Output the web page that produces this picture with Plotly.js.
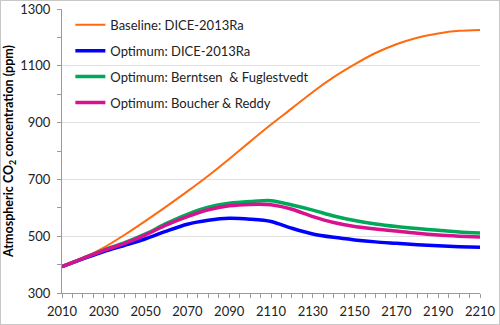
<!DOCTYPE html>
<html>
<head>
<meta charset="utf-8">
<script src="https://cdn.plot.ly/plotly-3.0.1.min.js"></script>
<style>
  html, body { margin: 0; padding: 0; background: #fff; }
  #wrap { position: relative; width: 500px; height: 325px; }
  #chart { width: 500px; height: 325px; }
  #frame { position: absolute; left: 0; top: 0; width: 500px; height: 325px; box-sizing: border-box; border: 1px solid #c8c8c8; pointer-events: none; }
</style>
</head>
<body>
<div id="wrap"><div id="chart"></div><div id="frame"></div></div>
<script>
const years = [2010, 2020, 2030, 2040, 2050, 2060, 2070, 2080, 2090, 2100, 2110, 2120, 2130, 2140, 2150, 2160, 2170, 2180, 2190, 2200, 2210];
const baselineDICE = [393, 423, 460, 505, 554, 605, 658, 713, 772, 833, 893, 950, 1008, 1060, 1105, 1145, 1176, 1199, 1214, 1223, 1226];
const optimumDICE  = [393, 420, 446, 468, 491, 518, 542, 556, 563, 560, 552, 528, 508, 496, 487, 480, 475, 470, 466, 463, 461];
const optimumBF    = [393, 422, 451, 477, 508, 545, 577, 602, 616, 622, 625, 610, 592, 571, 555, 543, 534, 527, 521, 515, 511];
const optimumBR    = [393, 422, 450, 475, 505, 540, 569, 593, 607, 612, 611, 595, 569, 548, 534, 525, 518, 510, 504, 500, 497];
const seriesNames = ["Baseline: DICE-2013Ra", "Optimum: DICE-2013Ra", "Optimum: Berntsen  & Fuglestvedt", "Optimum: Boucher & Reddy"];

const FONT = "Lato, 'Noto Sans', sans-serif";
const mk = (y, name, color, width, g) => ({
  x: years, y: y, name: name, type: "scatter", mode: "lines", legendgroup: g,
  line: { color: color, width: width, shape: "spline", smoothing: 0.8 }
});
const data = [
  mk(baselineDICE, seriesNames[0], "#FF6A0F", 2, "a"),
  mk(optimumDICE, seriesNames[1], "#0000FF", 3.5, "b"),
  mk(optimumBF, seriesNames[2], "#00A859", 3.5, "c"),
  mk(optimumBR, seriesNames[3], "#D8118F", 3.5, "d")
];
const layout = {
  width: 500, height: 325,
  margin: { l: 62, r: 20, t: 9, b: 32 },
  paper_bgcolor: "#fff", plot_bgcolor: "#fff",
  font: { family: FONT, size: 12.5, color: "#222" },
  showlegend: true,
  legend: {
    x: 0.02, y: 0.997, xanchor: "left", yanchor: "top",
    bgcolor: "rgba(0,0,0,0)", borderwidth: 0,
    font: { family: FONT, size: 13, color: "#222" },
    tracegroupgap: 6, itemwidth: 30
  },
  xaxis: {
    range: [2010, 2210], tickmode: "linear", tick0: 2010, dtick: 20,
    ticks: "outside", ticklen: 4, tickcolor: "#9a9a9a",
    minor: { dtick: 5, ticks: "outside", ticklen: 4, tickcolor: "#9a9a9a", showgrid: false },
    showline: true, linecolor: "#9a9a9a", linewidth: 1,
    showgrid: false, zeroline: false, ticklabelstandoff: 2,
    tickfont: { family: FONT, size: 13, color: "#222" }
  },
  yaxis: {
    range: [300, 1300], tickmode: "linear", tick0: 300, dtick: 200,
    ticks: "outside", ticklen: 4, tickcolor: "#9a9a9a",
    minor: { dtick: 100, ticks: "outside", ticklen: 4, tickcolor: "#9a9a9a", showgrid: false },
    showline: true, linecolor: "#9a9a9a", linewidth: 1,
    showgrid: true, gridcolor: "#e0e0e0", gridwidth: 1, zeroline: false,
    ticklabelstandoff: 4,
    tickfont: { family: FONT, size: 13, color: "#222" },
    title: { text: "<b>Atmospheric CO<sub>2</sub> concentration (ppm)</b>", standoff: 3,
             font: { family: FONT, size: 12.5, color: "#000" } }
  }
};
Plotly.newPlot("chart", data, layout, { displayModeBar: false, staticPlot: true });
</script>
</body>
</html>
